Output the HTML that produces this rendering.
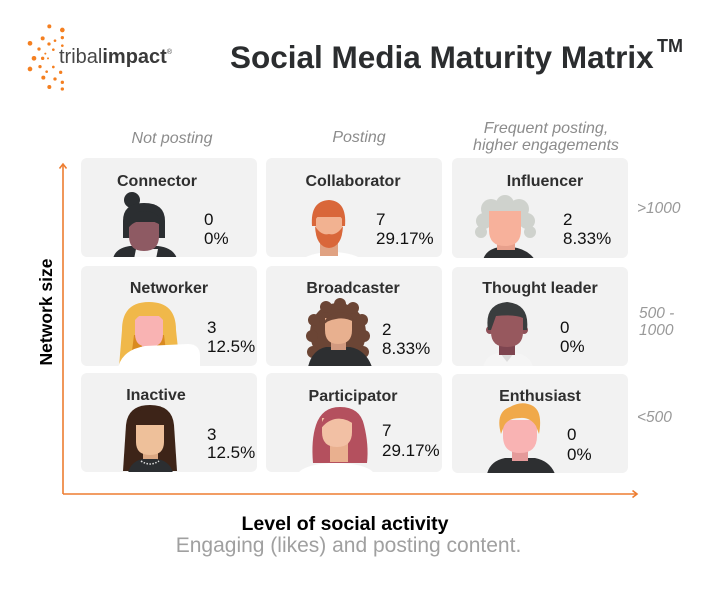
<!DOCTYPE html>
<html>
<head>
<meta charset="utf-8">
<style>
html,body{margin:0;padding:0;background:#fff;}
body{width:706px;height:593px;overflow:hidden;}
svg{display:block;}
text{font-family:"Liberation Sans",Arial,sans-serif;}
.t{font-weight:bold;font-size:16px;fill:#2f2f2f;text-anchor:middle;}
.n{font-size:17px;fill:#111;}
.h{font-style:italic;font-size:16px;fill:#8c8c8c;text-anchor:middle;}
.r{font-style:italic;font-size:15.5px;fill:#999;}
</style>
</head>
<body>
<svg width="706" height="593" viewBox="0 0 706 593" xmlns="http://www.w3.org/2000/svg">
<defs>
<clipPath id="k11"><rect x="81" y="158" width="176" height="99" rx="6"/></clipPath>
<clipPath id="k12"><rect x="266" y="158" width="176" height="99" rx="6"/></clipPath>
<clipPath id="k13"><rect x="452" y="158" width="176" height="100" rx="6"/></clipPath>
<clipPath id="k21"><rect x="81" y="266" width="176" height="100" rx="6"/></clipPath>
<clipPath id="k22"><rect x="266" y="266" width="176" height="100" rx="6"/></clipPath>
<clipPath id="k23"><rect x="452" y="267" width="176" height="99" rx="6"/></clipPath>
<clipPath id="k31"><rect x="81" y="373" width="176" height="99" rx="6"/></clipPath>
<clipPath id="k32"><rect x="266" y="373" width="176" height="99" rx="6"/></clipPath>
<clipPath id="k33"><rect x="452" y="374" width="176" height="99" rx="6"/></clipPath>
</defs>

<!-- logo -->
<g transform="translate(20,25) scale(0.3333)" fill="#f47f20">
<circle cx="88" cy="4" r="6"/><circle cx="127" cy="15" r="7"/>
<circle cx="68" cy="40" r="6"/><circle cx="105" cy="47" r="4"/><circle cx="127" cy="38" r="5"/>
<circle cx="87" cy="57" r="5"/><circle cx="30" cy="55" r="7"/><circle cx="127" cy="62" r="4"/>
<circle cx="57" cy="72" r="5"/><circle cx="100" cy="74" r="4"/><circle cx="76" cy="86" r="3"/>
<circle cx="42" cy="100" r="7"/><circle cx="68" cy="100" r="5"/><circle cx="84" cy="100" r="3"/>
<circle cx="30" cy="132" r="7"/><circle cx="60" cy="125" r="5"/><circle cx="100" cy="126" r="4"/>
<circle cx="80" cy="140" r="4"/><circle cx="122" cy="142" r="5"/>
<circle cx="70" cy="158" r="6"/><circle cx="105" cy="162" r="5"/><circle cx="127" cy="172" r="5"/>
<circle cx="88" cy="186" r="6"/><circle cx="127" cy="192" r="5"/>
</g>
<text x="59" y="63" font-size="20" fill="#474747">tribal<tspan font-weight="bold" fill="#3a3a3a">impact</tspan><tspan font-size="7" dy="-9">®</tspan></text>

<!-- title -->
<text x="230" y="68" font-size="31.5" font-weight="bold" fill="#2b2d2f">Social Media Maturity Matrix</text>
<text x="657" y="52" font-size="18" font-weight="bold" fill="#2b2d2f">TM</text>

<!-- column headers -->
<text class="h" x="172" y="143">Not posting</text>
<text class="h" x="359" y="142">Posting</text>
<text class="h" x="546" y="133">Frequent posting,</text>
<text class="h" x="546" y="150">higher engagements</text>

<!-- cards -->
<g fill="#f2f2f2">
<rect x="81" y="158" width="176" height="99" rx="6"/>
<rect x="266" y="158" width="176" height="99" rx="6"/>
<rect x="452" y="158" width="176" height="100" rx="6"/>
<rect x="81" y="266" width="176" height="100" rx="6"/>
<rect x="266" y="266" width="176" height="100" rx="6"/>
<rect x="452" y="267" width="176" height="99" rx="6"/>
<rect x="81" y="373" width="176" height="99" rx="6"/>
<rect x="266" y="373" width="176" height="99" rx="6"/>
<rect x="452" y="374" width="176" height="99" rx="6"/>
</g>

<!-- Connector avatar -->
<g clip-path="url(#k11)">
<circle cx="132" cy="200" r="8" fill="#2b2e31"/>
<path d="M123,238 L123,221 Q123,203 144,203 Q165,203 165,221 L165,238 Z" fill="#2b2e31"/>
<path d="M113,259 Q115,248 130,246 L158,246 Q174,248 177,259 Z" fill="#2b2e31"/>
<path d="M134,259 L136,249 L158,249 L156,259 Z" fill="#f4f4f4"/>
<rect x="137" y="238" width="14" height="12" fill="#7a4850"/>
<path d="M129,222 L159,222 L159,236 Q159,251 144,251 Q129,251 129,236 Z" fill="#8e5a63"/>
<path d="M127,226 Q130,211 144,211 Q160,211 162,226 Q152,219 140,221 Q132,222 127,230 Z" fill="#2b2e31"/>
</g>

<!-- Collaborator avatar -->
<g clip-path="url(#k12)">
<ellipse cx="332" cy="266" rx="34" ry="14" fill="#ffffff"/>
<rect x="320" y="238" width="18" height="18" fill="#e0a282"/>
<path d="M312,226 Q310,201 329,200 Q347,201 345,226 Z" fill="#d9673a"/>
<path d="M316,217 L342,217 L342,232 Q342,245 329,245 Q316,245 316,232 Z" fill="#f2b291"/>
<path d="M315,226 Q316,247 329,248 Q342,247 343,226 Q337,236 329,234 Q321,236 315,226 Z" fill="#d9673a"/>
<path d="M315,220 Q322,210 329,213 Q336,210 343,220 L343,214 Q336,206 329,207 Q321,206 315,214 Z" fill="#d9673a"/>
</g>

<!-- Influencer avatar -->
<g clip-path="url(#k13)">
<path d="M483,260 Q486,249 500,247 L512,247 Q528,249 535,260 Z" fill="#2d2f31"/>
<rect x="497" y="238" width="18" height="12" fill="#e8a08c"/>
<g fill="#cfd2cd">
<circle cx="491" cy="209" r="10"/><circle cx="505" cy="204" r="9"/><circle cx="519" cy="209" r="10"/>
<circle cx="484" cy="221" r="8"/><circle cx="527" cy="221" r="8"/>
<circle cx="481" cy="232" r="6"/><circle cx="530" cy="232" r="6"/>
</g>
<path d="M489,211 L521,211 L521,230 Q521,246 505,246 Q489,246 489,230 Z" fill="#f7b19b"/>
</g>

<!-- Networker avatar -->
<g clip-path="url(#k21)">
<path d="M119,367 L122,330 Q122,302 149,302 Q176,302 176,330 L180,367 Z" fill="#f0b84a"/>
<path d="M130,367 L134,335 L164,335 L168,367 Z" fill="#d98a1f"/>
<rect x="142" y="338" width="15" height="16" fill="#f0a0a0"/>
<path d="M135,316 L163,316 L163,334 Q163,347 149,347 Q135,347 135,334 Z" fill="#f9b3b3"/>
<path d="M132,324 Q134,306 149,306 Q164,306 166,324 Q158,312 149,313 Q140,312 132,324 Z" fill="#f0b84a"/>
<path d="M118,368 Q122,350 145,346 L188,344 Q200,344 200,356 L200,368 Z" fill="#ffffff"/>
</g>

<!-- Broadcaster avatar -->
<g clip-path="url(#k22)">
<g fill="#6b4535">
<ellipse cx="338" cy="333" rx="28" ry="30"/>
<circle cx="314" cy="320" r="6"/><circle cx="312" cy="336" r="6"/><circle cx="313" cy="352" r="6"/>
<circle cx="362" cy="320" r="6"/><circle cx="364" cy="336" r="6"/><circle cx="363" cy="352" r="6"/>
<circle cx="326" cy="307" r="6"/><circle cx="340" cy="304" r="6"/><circle cx="353" cy="308" r="6"/>
</g>
<path d="M308,367 Q312,350 326,347 L350,347 Q366,350 372,367 Z" fill="#2d2f31"/>
<rect x="331" y="336" width="15" height="14" fill="#d29a80"/>
<path d="M325,318 L352,318 L352,330 Q352,344 338,344 Q325,344 325,330 Z" fill="#e8b08f"/>
<path d="M323,326 Q326,313 340,312 Q352,313 354,322 Q345,317 336,319 Q327,320 323,326 Z" fill="#6b4535"/>
</g>

<!-- Thought leader avatar -->
<g clip-path="url(#k23)">
<path d="M483,367 Q486,355 498,353 L516,353 Q530,355 533,367 Z" fill="#f5f5f5"/>
<path d="M500,353 L507,362 L514,353 Z" fill="#dcdcdc"/>
<rect x="499" y="340" width="16" height="15" fill="#7e4550"/>
<circle cx="490" cy="330" r="4" fill="#8e5058"/><circle cx="524" cy="330" r="4" fill="#8e5058"/>
<path d="M491,312 L523,312 L523,332 Q523,347 507,347 Q491,347 491,332 Z" fill="#97585e"/>
<path d="M488,330 Q484,304 507,302 Q530,304 527,330 L523,330 L523,318 Q515,314 496,316 L491,330 Z" fill="#3a3d3e"/>
</g>

<!-- Inactive avatar -->
<g clip-path="url(#k31)">
<path d="M123,471 L126,425 Q128,405 150,405 Q172,405 174,425 L177,471 Z" fill="#3d2418"/>
<rect x="143" y="446" width="15" height="15" fill="#dba883"/>
<path d="M136,424 L164,424 L164,442 Q164,455 150,455 Q136,455 136,442 Z" fill="#eec09a"/>
<path d="M134,425 L134,418 Q136,409 150,409 Q164,409 166,418 L166,425 Z" fill="#3d2418"/>
<path d="M128,473 Q131,461 143,459 L157,459 Q170,461 173,473 Z" fill="#2b2e31"/>
<path d="M141,461 Q150,467 159,461" stroke="#dddddd" stroke-width="1.5" fill="none" stroke-dasharray="1.5 1.5"/>
</g>

<!-- Participator avatar -->
<g clip-path="url(#k32)">
<path d="M313,463 Q311,440 316,425 Q322,407 340,407 Q360,407 364,425 Q369,445 367,463 Z" fill="#b4505e"/>
<rect x="330" y="440" width="18" height="22" fill="#e9b08f"/>
<path d="M322,418 L352,418 L352,432 Q352,447 337,447 Q322,447 322,432 Z" fill="#f2c0a4"/>
<path d="M320,427 Q325,410 342,411 Q356,413 356,426 Q346,417 335,419 Q326,421 320,430 Z" fill="#b4505e"/>
<ellipse cx="336" cy="475" rx="38" ry="12" fill="#ffffff"/>
</g>

<!-- Enthusiast avatar -->
<g clip-path="url(#k33)">
<path d="M487,474 Q490,461 505,458 L535,458 Q550,461 555,474 Z" fill="#2d2f31"/>
<rect x="512" y="444" width="16" height="17" fill="#e59a9a"/>
<path d="M503,420 L537,420 L537,436 Q537,453 520,453 Q503,453 503,436 Z" fill="#f9b3b3"/>
<path d="M501,434 Q495,412 510,407 Q522,400 533,406 Q543,412 539,434 L536,426 Q530,417 520,418 Q508,418 504,426 Z" fill="#f0a94a"/>
</g>

<!-- card titles -->
<text class="t" x="157" y="186">Connector</text>
<text class="t" x="353" y="186">Collaborator</text>
<text class="t" x="545" y="186">Influencer</text>
<text class="t" x="169" y="293">Networker</text>
<text class="t" x="353" y="293">Broadcaster</text>
<text class="t" x="540" y="293">Thought leader</text>
<text class="t" x="156" y="400">Inactive</text>
<text class="t" x="353" y="401">Participator</text>
<text class="t" x="540" y="401">Enthusiast</text>

<!-- numbers -->
<text class="n" x="204" y="225">0</text><text class="n" x="204" y="244">0%</text>
<text class="n" x="376" y="225">7</text><text class="n" x="376" y="244">29.17%</text>
<text class="n" x="563" y="225">2</text><text class="n" x="563" y="244">8.33%</text>
<text class="n" x="207" y="333">3</text><text class="n" x="207" y="352">12.5%</text>
<text class="n" x="382" y="335">2</text><text class="n" x="382" y="354">8.33%</text>
<text class="n" x="560" y="333">0</text><text class="n" x="560" y="352">0%</text>
<text class="n" x="207" y="440">3</text><text class="n" x="207" y="458">12.5%</text>
<text class="n" x="382" y="436">7</text><text class="n" x="382" y="456">29.17%</text>
<text class="n" x="567" y="440">0</text><text class="n" x="567" y="460">0%</text>

<!-- right labels -->
<text class="r" x="637" y="213">&gt;1000</text>
<text class="r" x="639" y="318">500 -</text>
<text class="r" x="639" y="335">1000</text>
<text class="r" x="637" y="422">&lt;500</text>

<!-- axes -->
<g stroke="#ed7d31" stroke-width="1.6" fill="none">
<line x1="63" y1="164" x2="63" y2="494"/>
<line x1="63" y1="494" x2="637" y2="494"/>
<polyline points="59.5,168.5 63,164 66.5,168.5"/>
<polyline points="632.5,490.5 637,494 632.5,497.5"/>
</g>

<text transform="translate(52,312) rotate(-90)" text-anchor="middle" font-size="17.5" font-weight="bold" fill="#000">Network size</text>
<text x="345" y="530" text-anchor="middle" font-size="19.5" font-weight="bold" fill="#000">Level of social activity</text>
<text x="348.5" y="552" text-anchor="middle" font-size="21" fill="#a0a0a0">Engaging (likes) and posting content.</text>
</svg>
</body>
</html>
